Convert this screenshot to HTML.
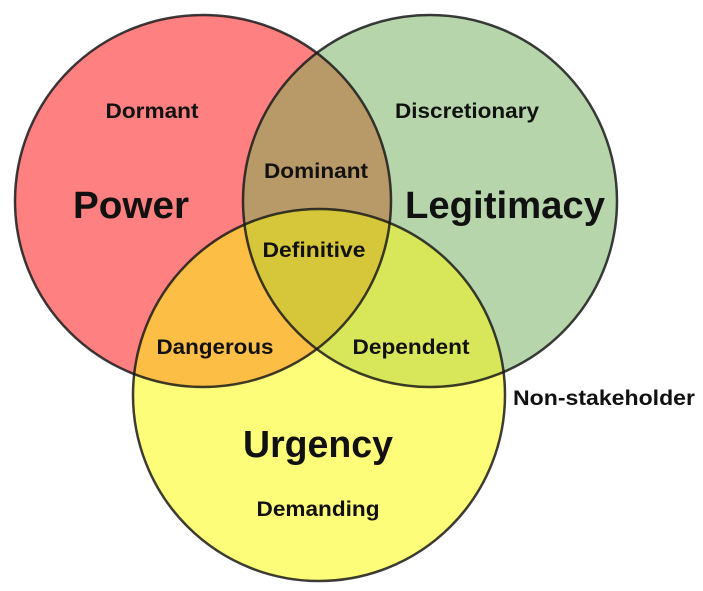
<!DOCTYPE html>
<html><head><meta charset="utf-8"><style>
html,body{margin:0;padding:0;background:#fff;}
svg{display:block;}
text{font-family:"Liberation Sans",sans-serif;font-weight:bold;fill:#111;text-anchor:middle;}
</style></head><body>
<svg width="703" height="591" viewBox="0 0 703 591" xmlns="http://www.w3.org/2000/svg">
<defs>
<clipPath id="cP"><ellipse cx="203" cy="201" rx="188" ry="186"/></clipPath>
<clipPath id="cL"><ellipse cx="430" cy="201" rx="187" ry="186"/></clipPath>
<clipPath id="cU"><ellipse cx="319" cy="395" rx="186" ry="186"/></clipPath>
</defs>
<ellipse cx="203" cy="201" rx="188" ry="186" fill="#fe8080"/>
<ellipse cx="430" cy="201" rx="187" ry="186" fill="#b7d5ab"/>
<ellipse cx="319" cy="395" rx="186" ry="186" fill="#fefd7a"/>
<g clip-path="url(#cP)"><ellipse cx="430" cy="201" rx="187" ry="186" fill="#b89968"/><ellipse cx="319" cy="395" rx="186" ry="186" fill="#fcbe44"/></g>
<g clip-path="url(#cL)"><ellipse cx="319" cy="395" rx="186" ry="186" fill="#d8e75a"/></g>
<g clip-path="url(#cP)"><g clip-path="url(#cL)"><ellipse cx="319" cy="395" rx="186" ry="186" fill="#d6c63a"/></g></g>
<g fill="none" stroke="#1a1a1a" stroke-width="2.5" stroke-opacity="0.85">
<ellipse cx="203" cy="201" rx="188" ry="186"/>
<ellipse cx="430" cy="201" rx="187" ry="186"/>
<ellipse cx="319" cy="395" rx="186" ry="186"/>
</g>
<text x="152" y="118" font-size="21" textLength="93" lengthAdjust="spacingAndGlyphs">Dormant</text>
<text x="467" y="118" font-size="21" textLength="144" lengthAdjust="spacingAndGlyphs">Discretionary</text>
<text x="316" y="178" font-size="21" textLength="104" lengthAdjust="spacingAndGlyphs">Dominant</text>
<text x="131" y="218" font-size="38" textLength="116" lengthAdjust="spacingAndGlyphs">Power</text>
<text x="505" y="218" font-size="38" textLength="200" lengthAdjust="spacingAndGlyphs">Legitimacy</text>
<text x="314" y="257" font-size="21" textLength="103" lengthAdjust="spacingAndGlyphs">Definitive</text>
<text x="215" y="354" font-size="21" textLength="117" lengthAdjust="spacingAndGlyphs">Dangerous</text>
<text x="411" y="354" font-size="21" textLength="117" lengthAdjust="spacingAndGlyphs">Dependent</text>
<text x="604" y="405" font-size="21" textLength="182" lengthAdjust="spacingAndGlyphs">Non-stakeholder</text>
<text x="318" y="457" font-size="38" textLength="150" lengthAdjust="spacingAndGlyphs">Urgency</text>
<text x="318" y="516" font-size="21" textLength="123" lengthAdjust="spacingAndGlyphs">Demanding</text>
</svg>
</body></html>
